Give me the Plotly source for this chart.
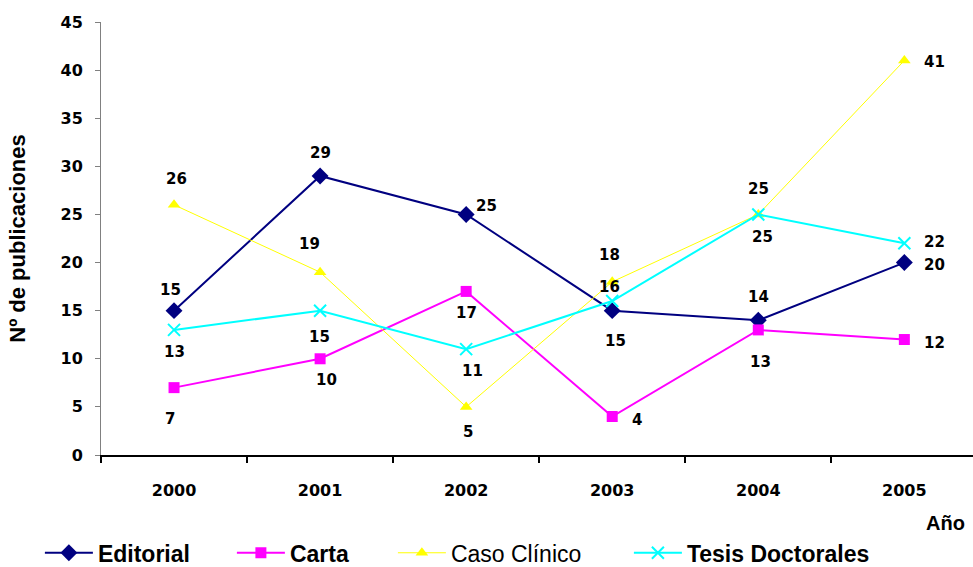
import plotly.graph_objects as go

years = ["2000", "2001", "2002", "2003", "2004", "2005"]
editorial = [15, 29, 25, 15, 14, 20]
carta = [7, 10, 17, 4, 13, 12]
caso_clinico = [26, 19, 5, 18, 25, 41]
tesis = [13, 15, 11, 16, 25, 22]
series_names = ["Editorial", "Carta", "Caso Clínico", "Tesis Doctorales"]
y_ticks = [0, 5, 10, 15, 20, 25, 30, 35, 40, 45]

# label offsets (pixels: dx, dy up-positive)
label_shifts = [
    [(-4, 21), (0, 23), (20, 8), (3, -30), (0, 23), (30, -2)],
    [(-4, -31), (6, -21), (0, -22), (25, -3), (2, -32), (30, -3)],
    [(2, 26), (-11, 28), (2, -25), (-3, 27), (0, 25), (30, -2)],
    [(0, -22), (-1, -26), (6, -22), (-3, 14), (4, -23), (30, 1)],
]

styles = [
    dict(color="#000080", symbol="diamond", size=13, lw=2),
    dict(color="#FF00FF", symbol="square", size=11, lw=2),
    dict(color="#FFFF00", symbol="triangle-up", size=11, lw=1),
    dict(color="#00FFFF", symbol="x-thin", size=12, lw=2),
]
legend_widths = [129, 98, 173, 190]

fig = go.Figure()
all_values = [editorial, carta, caso_clinico, tesis]
for name, vals, st, lwid in zip(series_names, all_values, styles, legend_widths):
    marker = dict(symbol=st["symbol"], size=st["size"], color=st["color"])
    if st["symbol"] == "x-thin":
        marker["line"] = dict(color=st["color"], width=2)
    disp = name if name == "Caso Clínico" else "<b>" + name + "</b>"
    fig.add_trace(go.Scatter(
        x=years, y=vals, mode="lines+markers", name=disp,
        line=dict(color=st["color"], width=st["lw"]),
        marker=marker, legendwidth=lwid, cliponaxis=False,
    ))

for vals, shifts in zip(all_values, label_shifts):
    for i, (yv, (dx, dy)) in enumerate(zip(vals, shifts)):
        fig.add_annotation(x=i, y=yv, text=str(yv), showarrow=False,
                           xshift=dx, yshift=dy,
                           font=dict(family="DejaVu Sans", size=15, color="black", weight="bold"))

fig.add_annotation(x=0.993, y=-0.157, xref="paper", yref="paper", text="<b>Año</b>",
                   showarrow=False, xanchor="right", yanchor="middle",
                   font=dict(family="Liberation Sans, Arial", size=20, color="black"))

fig.update_layout(
    width=973, height=567,
    margin=dict(l=101, r=0, t=22, b=112),
    paper_bgcolor="white", plot_bgcolor="white",
    showlegend=True,
    legend=dict(orientation="h", xref="container", yref="container", x=0.041, y=0.025,
                xanchor="left", yanchor="middle",
                font=dict(family="Liberation Sans, Arial", size=23, color="black"),
                itemwidth=48, tracegroupgap=0),
    xaxis=dict(type="category", range=[-0.5, 5.47], showgrid=False, zeroline=False,
               showline=True, linecolor="black", linewidth=2,
               ticks="outside", tickson="boundaries", ticklen=6, tickcolor="black", tickwidth=2,
               ticklabelstandoff=20,
               tickfont=dict(family="DejaVu Sans", size=16, color="black", weight="bold")),
    yaxis=dict(range=[0, 45], tickvals=y_ticks, showgrid=False, zeroline=False,
               showline=True, linecolor="#808080", linewidth=1,
               ticks="outside", ticklen=5, tickcolor="#808080",
               ticklabelstandoff=9,
               tickfont=dict(family="DejaVu Sans", size=16, color="black", weight="bold"),
               title=dict(text="Nº de publicaciones", standoff=28,
                          font=dict(family="Liberation Sans, Arial", size=22, color="black", weight="bold"))),
)

fig.write_html("out.html", config={"displayModeBar": False},
               post_script="document.body.style.margin='0';")
